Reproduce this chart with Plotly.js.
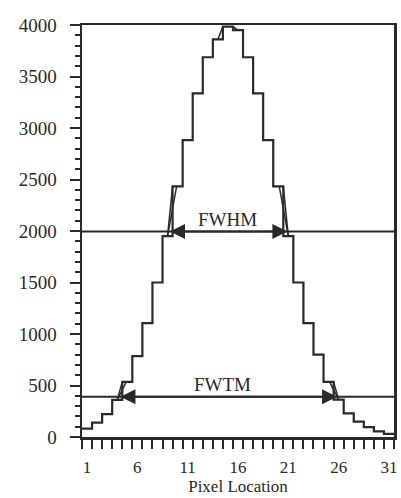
<!DOCTYPE html>
<html>
<head>
<meta charset="utf-8">
<script src="https://cdn.plot.ly/plotly-3.0.1.min.js"></script>
<style>
  html, body { margin: 0; padding: 0; background: #ffffff; }
  #chart { width: 401px; height: 498px; }
</style>
</head>
<body>
<div id="chart"></div>
<script>
// ---- data ----
const pixels = [1, 2, 3, 4, 5, 6, 7, 8, 9, 10, 11, 12, 13, 14, 15, 16,
                17, 18, 19, 20, 21, 22, 23, 24, 25, 26, 27, 28, 29, 30, 31];
const counts = [82, 140, 222, 360, 535, 785, 1105, 1500, 1950, 2434, 2883, 3337, 3687, 3860, 3985, 3950,
                3687, 3337, 2883, 2434, 1950, 1500, 1105, 800, 535, 363, 230, 150, 95, 55, 30];
const xTickVals = [1, 6, 11, 16, 21, 26, 31];
const xTickText = ['1', '6', '11', '16', '21', '26', '31'];
const yTickVals = [0, 500, 1000, 1500, 2000, 2500, 3000, 3500, 4000];
const yTickText = ['0', '500', '1000', '1500', '2000', '2500', '3000', '3500', '4000'];
const widthLabels = ['FWHM', 'FWTM'];
const widthLevels = [1995, 390];

// ---- derived geometry (from the data) ----
const xMin = pixels[0] - 0.5;
const xMax = pixels[pixels.length - 1] + 0.5;
const edges = pixels.map(p => p - 0.5).concat([xMax]);
const stepY = counts.concat([counts[counts.length - 1]]);

function leftCross(level) {
  for (let i = 0; i < counts.length - 1; i++) {
    if (counts[i] < level && counts[i + 1] >= level) {
      return { i: i, x: pixels[i] + (level - counts[i]) / (counts[i + 1] - counts[i]) };
    }
  }
}
function rightCross(level) {
  for (let i = counts.length - 2; i >= 0; i--) {
    if (counts[i] >= level && counts[i + 1] < level) {
      return { i: i, x: pixels[i] + (counts[i] - level) / (counts[i] - counts[i + 1]) };
    }
  }
}

const ink = '#2a2a2a';
const serif = 'Liberation Serif, Times New Roman, serif';

const traces = [];
// step histogram
traces.push({
  x: edges, y: stepY, type: 'scatter', mode: 'lines',
  line: { shape: 'hv', color: ink, width: 2.2 }, hoverinfo: 'skip', showlegend: false
});

// interpolation markers
const ix = [], iy = [];
const annotations = [];
widthLevels.forEach((lev, k) => {
  const L = leftCross(lev), R = rightCross(lev);
  const a = L.i, b = L.i + 1;
  ix.push(pixels[a], pixels[a] + 0.5, null, pixels[a], pixels[b] - 0.1, null);
  iy.push(counts[a], counts[b], null, counts[a], counts[b], null);
  const u = R.i, d = R.i + 1;
  ix.push(pixels[d], pixels[d] - 0.5, null, pixels[d], pixels[u] + 0.1, null);
  iy.push(counts[d], counts[u], null, counts[d], counts[u], null);

  // horizontal level line across the plot
  traces.push({
    x: [xMin, xMax], y: [lev, lev], type: 'scatter', mode: 'lines',
    line: { color: ink, width: 2 }, hoverinfo: 'skip', showlegend: false
  });
  // double arrow between crossings
  annotations.push({
    x: R.x, y: lev, ax: L.x, ay: lev, xref: 'x', yref: 'y', axref: 'x', ayref: 'y',
    text: '', showarrow: true, arrowside: 'end+start',
    arrowhead: 2, startarrowhead: 2, arrowsize: 1.5, startarrowsize: 1.5,
    arrowwidth: 2, arrowcolor: ink, standoff: 0, startstandoff: 0
  });
  annotations.push({
    x: (L.x + R.x) / 2, y: lev, xref: 'x', yref: 'y', text: widthLabels[k],
    showarrow: false, yanchor: 'bottom', xshift: k === 1 ? -6 : 0, yshift: 0,
    font: { family: serif, size: 19, color: ink }
  });
});
// peak markers
let pk = 0;
counts.forEach((c, i) => { if (c > counts[pk]) pk = i; });
ix.push(pixels[pk - 1], pixels[pk] - 0.5, null, pixels[pk + 1], pixels[pk] + 0.5, null);
iy.push(counts[pk - 1], counts[pk], null, counts[pk + 1], counts[pk], null);

traces.push({
  x: ix, y: iy, type: 'scatter', mode: 'lines',
  line: { color: ink, width: 1.5 }, hoverinfo: 'skip', showlegend: false
});

const layout = {
  width: 401, height: 498,
  margin: { l: 82, r: 7, t: 25, b: 61, pad: 0 },
  paper_bgcolor: '#ffffff', plot_bgcolor: '#ffffff',
  showlegend: false,
  font: { family: serif, color: ink },
  xaxis: {
    range: [xMin, xMax], showgrid: false, zeroline: false,
    showline: true, mirror: true, linecolor: ink, linewidth: 2.5,
    tickmode: 'array', tickvals: xTickVals, ticktext: xTickText,
    ticks: 'outside', ticklen: 10, tickcolor: 'rgba(0,0,0,0)',
    ticklabelstandoff: 3,
    tickfont: { family: serif, size: 17, color: ink },
    minor: { tickmode: 'array', tickvals: edges, ticks: 'outside', ticklen: 9, tickwidth: 2, tickcolor: ink, showgrid: false },
    title: { text: 'Pixel Location', font: { family: serif, size: 17, color: ink }, standoff: 4 }
  },
  yaxis: {
    range: [0, 4000], showgrid: false, zeroline: false,
    showline: true, mirror: true, linecolor: ink, linewidth: 2.5,
    tickmode: 'array', tickvals: yTickVals, ticktext: yTickText,
    ticks: 'outside', ticklen: 10, tickwidth: 2, tickcolor: ink,
    ticklabelstandoff: 9,
    tickfont: { family: serif, size: 19, color: ink },
    minor: { dtick: 100, tick0: 0, ticks: 'outside', ticklen: 5, tickwidth: 2, tickcolor: ink, showgrid: false }
  },
  annotations: annotations
};

Plotly.newPlot('chart', traces, layout, { displayModeBar: false, staticPlot: true });
</script>
</body>
</html>
